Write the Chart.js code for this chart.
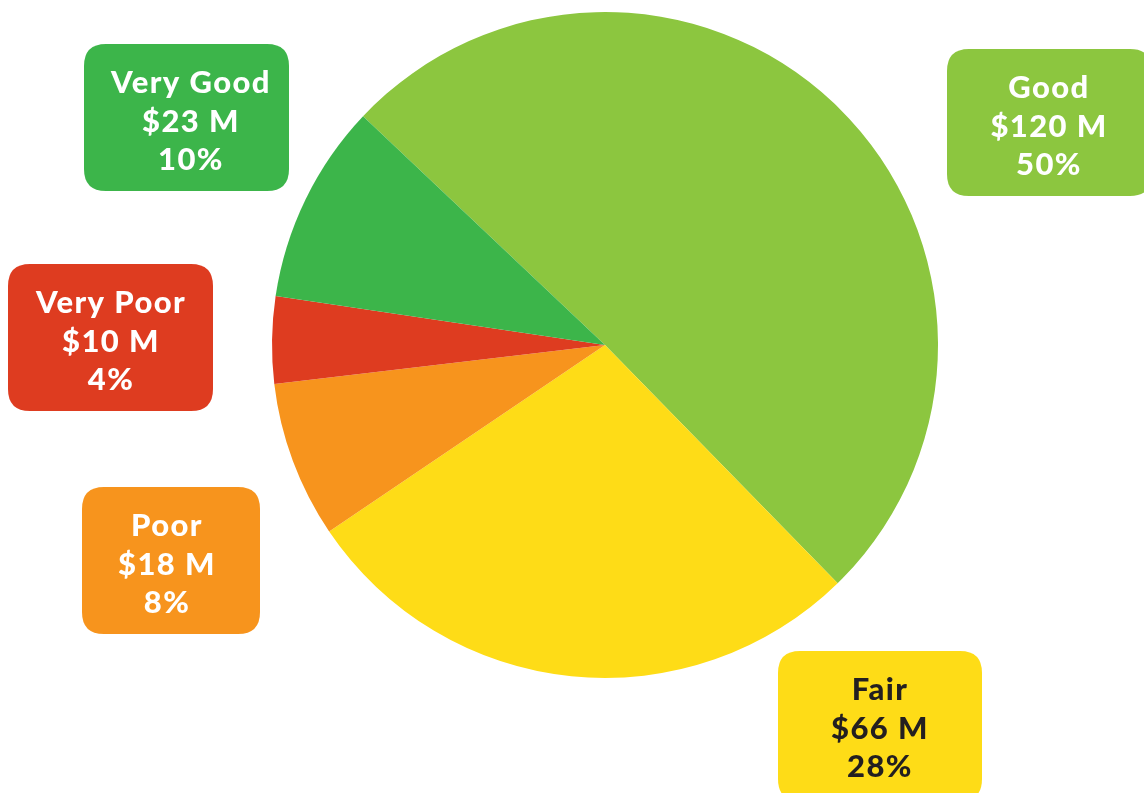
<!DOCTYPE html>
<html>
<head>
<meta charset="utf-8">
<script src="https://cdn.jsdelivr.net/npm/chart.js@4"></script>
<style>
  html, body { margin: 0; padding: 0; background: #fff; }
  #wrap { width: 1144px; height: 793px; position: relative; }
</style>
</head>
<body>
<div id="wrap"><canvas id="pieChart"></canvas></div>
<script>
// data
const categories = ['Good', 'Fair', 'Poor', 'Very Poor', 'Very Good'];
const valuesM = [120, 66, 18, 10, 23];
const percents = [50, 28, 8, 4, 10];
const colors = ['#8CC63F', '#FEDC17', '#F7941D', '#DE3C20', '#3CB54A'];
const textColors = ['#ffffff', '#231F20', '#ffffff', '#ffffff', '#ffffff'];

// label boxes (x, y, w, h, text center x)
const boxes = [
  [947, 49, 205, 147, 1049],
  [778, 651, 204, 150, 880],
  [82, 487, 178, 147, 167],
  [8, 264, 205, 147, 111],
  [84, 44, 205, 147, 191]
];

function roundRect(ctx, x, y, w, h, r) {
  ctx.beginPath();
  ctx.moveTo(x + r, y);
  ctx.lineTo(x + w - r, y);
  ctx.quadraticCurveTo(x + w, y, x + w, y + r);
  ctx.lineTo(x + w, y + h - r);
  ctx.quadraticCurveTo(x + w, y + h, x + w - r, y + h);
  ctx.lineTo(x + r, y + h);
  ctx.quadraticCurveTo(x, y + h, x, y + h - r);
  ctx.lineTo(x, y + r);
  ctx.quadraticCurveTo(x, y, x + r, y);
  ctx.closePath();
}

const labelBoxes = {
  id: 'labelBoxes',
  afterDraw(chart) {
    const ctx = chart.ctx;
    ctx.save();
    categories.forEach((name, i) => {
      const [x, y, w, h, cx] = boxes[i];
      ctx.fillStyle = colors[i];
      roundRect(ctx, x, y, w, h, 22);
      ctx.fill();
      ctx.fillStyle = textColors[i];
      ctx.font = '900 31px Lato';
      ctx.letterSpacing = '1.4px';
      ctx.textAlign = 'center';
      ctx.textBaseline = 'middle';
      const lines = [name, '$' + valuesM[i] + ' M', percents[i] + '%'];
      lines.forEach((t, k) => ctx.fillText(t, cx, y + 39 + k * 38.5));
    });
    ctx.restore();
  }
};

new Chart(document.getElementById('pieChart'), {
  type: 'pie',
  data: {
    labels: categories,
    datasets: [{
      data: valuesM,
      backgroundColor: colors,
      borderWidth: 0
    }]
  },
  options: {
    responsive: true,
    maintainAspectRatio: false,
    animation: false,
    rotation: -46.6,
    layout: { padding: { left: 272, right: 206, top: 12, bottom: 115 } },
    plugins: {
      legend: { display: false },
      tooltip: { enabled: false }
    }
  },
  plugins: [labelBoxes]
});
</script>
</body>
</html>
